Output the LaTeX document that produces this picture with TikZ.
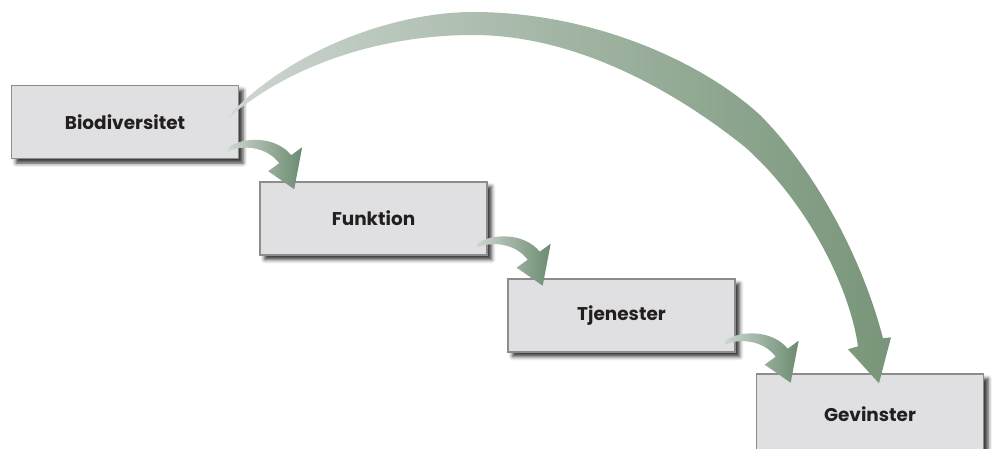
\documentclass[tikz,border=0pt]{standalone}
\usepackage{fontspec}
\setmainfont{Poppins}
\usetikzlibrary{calc,shadows.blur}

\definecolor{boxfill}{HTML}{E0E0E2}
\definecolor{boxline}{HTML}{8C8C8C}
\definecolor{boxtext}{HTML}{231F20}
\definecolor{tailgreen}{HTML}{CDD6D0}
\definecolor{headgreen}{HTML}{6B8B70}
\definecolor{arcgreen}{HTML}{789579}

% small bent arrow from the lower right corner of a box
\newcommand\steparrow[1]{%
	\begin{scope}[shift={($(#1.south east)+(-10,-9)$)}]
		\path[greenarrow] (0,-3) .. controls (12,-13) and (46,-15) .. (62,5) -- (73,-3)
			-- (65,39) -- (39,21) -- (50,13) .. controls (38,-3) and (15,-6) .. (-1,1) -- cycle;
	\end{scope}}

\begin{document}
\begin{tikzpicture}[x=0.02cm, y=-0.02cm,
	box/.style={draw=boxline, line width=0.8pt, fill=boxfill,
		minimum width=4.54cm, minimum height=1.46cm, text=boxtext,
		font=\fontsize{10.5}{13}\selectfont\bfseries,
		blur shadow={shadow xshift=2.6pt, shadow yshift=-2.6pt,
			shadow blur radius=2.2pt, shadow opacity=80}},
	greenarrow/.style={shading=axis, left color=tailgreen, right color=headgreen}]
	\useasboundingbox (0,0) rectangle (993,449);
	
	% Draw boxes
	\node[box] (bio) at (125,122) {Biodiversitet};
	\node[box] (fun) at (373.5,218.5) {Funktion};
	\node[box] (tje) at (621.5,315.5) {Tjenester};
	\node[box, minimum height=1.6cm] (gev) at (870,414) {Gevinster};
	
	% Draw step arrows
	\steparrow{bio}
	\steparrow{fun}
	\steparrow{tje}
	
	% Draw long arrow
	\path[greenarrow, right color=arcgreen] ($(bio.east)+(-4,-13)$) .. controls (300,45) and (400,12) .. (473,12)
		.. controls (590,12) and (700,60) .. (760,115)
		.. controls (810,165) and (860,250) .. ($(gev.north)+(13,-35)$)
		-- ($(gev.north)+(21,-36)$) -- ($(gev.north)+(9,10)$)
		-- ($(gev.north)+(-22,-24)$) -- ($(gev.north)+(-12,-27)$)
		.. controls (850,290) and (810,205) .. (745,147)
		.. controls (680,95) and (580,35) .. (473,35)
		.. controls (380,35) and (290,65) .. ($(bio.east)+(-11,-4)$) -- cycle;
\end{tikzpicture}
\end{document}
